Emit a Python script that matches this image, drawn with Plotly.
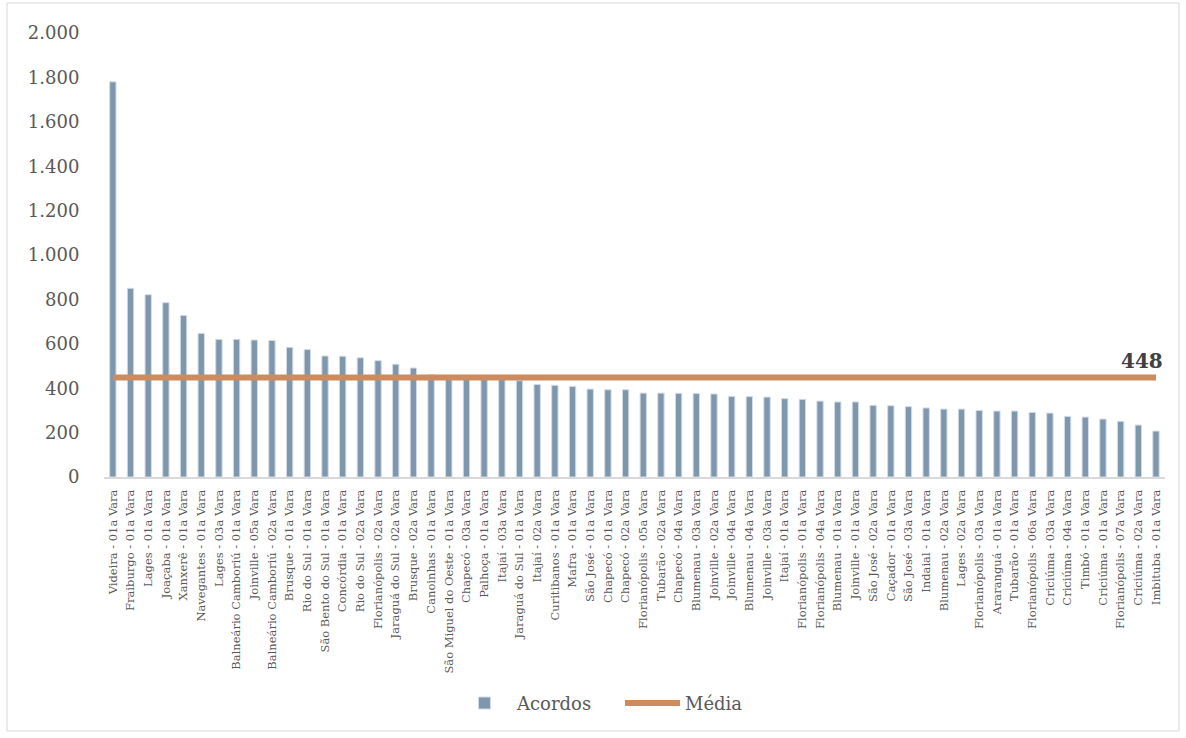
import plotly.graph_objects as go

categorias = [
    "Videira - 01a Vara", "Fraiburgo - 01a Vara", "Lages - 01a Vara", "Joaçaba - 01a Vara",
    "Xanxerê - 01a Vara", "Navegantes - 01a Vara", "Lages - 03a Vara",
    "Balneário Camboriú - 01a Vara", "Joinville - 05a Vara", "Balneário Camboriú - 02a Vara",
    "Brusque - 01a Vara", "Rio do Sul - 01a Vara", "São Bento do Sul - 01a Vara",
    "Concórdia - 01a Vara", "Rio do Sul - 02a Vara", "Florianópolis - 02a Vara",
    "Jaraguá do Sul - 02a Vara", "Brusque - 02a Vara", "Canoinhas - 01a Vara",
    "São Miguel do Oeste - 01a Vara", "Chapecó - 03a Vara", "Palhoça - 01a Vara",
    "Itajaí - 03a Vara", "Jaraguá do Sul - 01a Vara", "Itajaí - 02a Vara",
    "Curitibanos - 01a Vara", "Mafra - 01a Vara", "São José - 01a Vara", "Chapecó - 01a Vara",
    "Chapecó - 02a Vara", "Florianópolis - 05a Vara", "Tubarão - 02a Vara",
    "Chapecó - 04a Vara", "Blumenau - 03a Vara", "Joinville - 02a Vara",
    "Joinville - 04a Vara", "Blumenau - 04a Vara", "Joinville - 03a Vara", "Itajaí - 01a Vara",
    "Florianópolis - 01a Vara", "Florianópolis - 04a Vara", "Blumenau - 01a Vara",
    "Joinville - 01a Vara", "São José - 02a Vara", "Caçador - 01a Vara", "São José - 03a Vara",
    "Indaial - 01a Vara", "Blumenau - 02a Vara", "Lages - 02a Vara",
    "Florianópolis - 03a Vara", "Araranguá - 01a Vara", "Tubarão - 01a Vara",
    "Florianópolis - 06a Vara", "Criciúma - 03a Vara", "Criciúma - 04a Vara",
    "Timbó - 01a Vara", "Criciúma - 01a Vara", "Florianópolis - 07a Vara",
    "Criciúma - 02a Vara", "Imbituba - 01a Vara",
]

acordos = [
    1780, 850, 821, 785, 728, 647, 620, 620, 617, 615,
    584, 574, 545, 544, 537, 524, 508, 491, 460, 455,
    450, 446, 442, 434, 417, 413, 408, 396, 393, 393,
    378, 378, 377, 376, 374, 363, 362, 360, 353, 350,
    342, 338, 338, 323, 321, 317, 311, 306, 306, 300,
    297, 297, 291, 288, 273, 270, 261, 251, 234, 207,
]

media_valor = 448
media = [media_valor] * len(categorias)

y_ticks = [0, 200, 400, 600, 800, 1000, 1200, 1400, 1600, 1800, 2000]

FONT = "DejaVu Serif"

fig = go.Figure()
fig.add_trace(go.Bar(
    x=categorias, y=acordos, name="Acordos",
    marker=dict(color="#7F97AD", line=dict(color="#D3DCE6", width=1)),
    width=0.36,
))
fig.add_trace(go.Scatter(
    x=categorias, y=media, name="Média", mode="lines",
    line=dict(color="#CD8B5E", width=6),
))

fig.add_annotation(
    x=categorias[-1], y=media_valor, text="<b>448</b>", showarrow=False,
    xanchor="right", yanchor="bottom", xshift=9, yshift=3,
    font=dict(family=FONT, size=20, color="#404040"),
)

# plot area: x 104..1165, y 33..477 in a 1186x738 page
L, R, T, B = 104, 21, 33, 261
W, H = 1186 - L - R, 738 - T - B
fig.add_shape(
    type="rect", xref="paper", yref="paper",
    x0=(7 - L) / W, x1=(1179 - L) / W,
    y0=(738 - B - 731) / H, y1=(738 - B - 3) / H,
    line=dict(color="#D9D9D9", width=1), fillcolor="rgba(0,0,0,0)",
    layer="below",
)

fig.update_layout(
    width=1186, height=738,
    margin=dict(l=L, r=R, t=T, b=B, autoexpand=False),
    paper_bgcolor="white", plot_bgcolor="white",
    separators=",.",
    font=dict(family=FONT, color="#595959"),
    showlegend=True,
    legend=dict(
        orientation="h", x=(452 - L) / W, xanchor="left",
        yref="container", y=0.047, yanchor="middle",
        font=dict(family=FONT, size=18, color="#595959"),
        bgcolor="rgba(0,0,0,0)",
        itemwidth=55, entrywidth=98, entrywidthmode="pixels",
    ),
    xaxis=dict(
        type="category", tickangle=-90, tickfont=dict(size=11.5, color="#595959"),
        showline=True, linecolor="#D9D9D9", linewidth=2, automargin=False,
        showgrid=False, ticks="outside", ticklen=6, tickcolor="rgba(0,0,0,0)",
    ),
    yaxis=dict(
        range=[0, 2000], tickvals=y_ticks, tickformat=",d", automargin=False,
        showgrid=False, zeroline=False, showline=False,
        tickfont=dict(size=18, color="#595959"),
        ticks="outside", ticklen=20, tickcolor="rgba(0,0,0,0)",
    ),
)

fig.write_html("out.html")
